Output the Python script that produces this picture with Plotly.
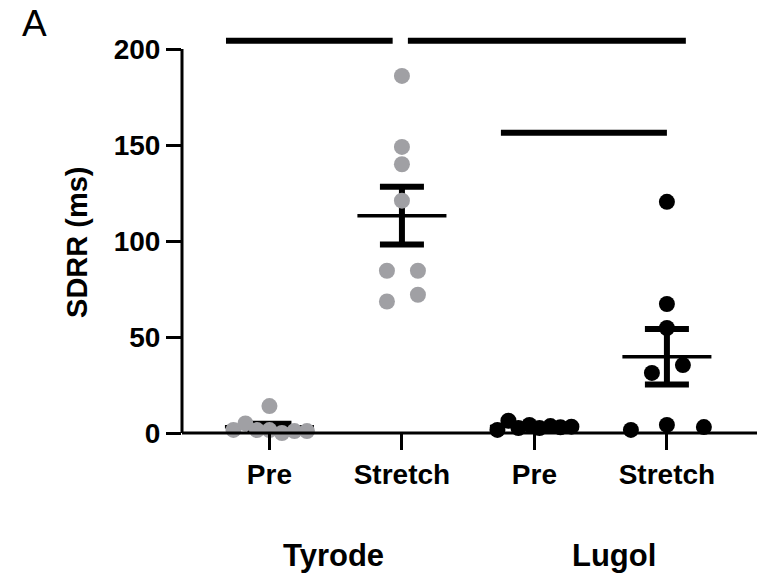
import numpy as np
import plotly.graph_objects as go

# ---- data ----
tick_labels = ["Pre", "Stretch", "Pre", "Stretch"]
group_labels = ["Tyrode", "Lugol"]
tyrode_pre = [1.6, 5.0, 1.5, 14.0, 1.5, 0.0, 1.0, 1.0]
tyrode_stretch = [186.0, 149.0, 140.0, 121.0, 84.5, 84.5, 68.5, 72.0]
lugol_pre = [1.6, 6.4, 2.6, 4.2, 2.6, 3.6, 3.0, 3.3]
lugol_stretch = [120.4, 67.2, 54.7, 35.4, 31.3, 1.6, 4.2, 3.1]
y_ticks = [0, 50, 100, 150, 200]

# ---- layout / style (beeswarm offsets in px, significance bars) ----
groups = [tyrode_pre, tyrode_stretch, lugol_pre, lugol_stretch]
colors = ["#A0A0A4", "#A0A0A4", "#000000", "#000000"]
swarm_px = [
    [-36, -24, -12.5, 0, 0, 12.5, 25, 37.5],
    [0, 0, 0, 0, -15, 16, -15, 16],
    [-37, -26, -16, -5, 5, 16, 26, 37],
    [0, 0, 0, 16, -15, -36, 0, 37],
]
PX_PER_CAT = 132.5
sig_bars = [(-0.328, 0.930, 204.3), (1.045, 3.143, 204.3), (1.747, 3.0, 156.4)]
group_label_x = [0.483, 2.6]

FONT = "Liberation Sans, Arial, sans-serif"
fig = go.Figure()

means = [float(np.mean(g)) for g in groups]
sems = [float(np.std(g, ddof=1) / np.sqrt(len(g))) for g in groups]

# error bars (SEM)
fig.add_trace(go.Scatter(
    x=list(range(4)), y=means, mode="markers",
    marker=dict(size=0.1, color="rgba(0,0,0,0)"),
    error_y=dict(type="data", array=sems, symmetric=True, color="black",
                 thickness=6, width=22),
    showlegend=False, hoverinfo="skip"))

# mean lines
mx, my = [], []
for i, m in enumerate(means):
    mx += [i - 0.336, i + 0.336, None]
    my += [m, m, None]
fig.add_trace(go.Scatter(x=mx, y=my, mode="lines",
                         line=dict(color="black", width=3.5),
                         showlegend=False, hoverinfo="skip"))

# points
for i, (g, offs, c) in enumerate(zip(groups, swarm_px, colors)):
    fig.add_trace(go.Scatter(
        x=[i + o / PX_PER_CAT for o in offs], y=g, mode="markers",
        marker=dict(size=16, color=c, line=dict(width=0)),
        cliponaxis=False, showlegend=False))

YMAX = 212
shapes = []
# axis lines
shapes.append(dict(type="line", xref="paper", yref="paper", x0=0, x1=1, y0=0, y1=0,
                   line=dict(color="black", width=3)))
shapes.append(dict(type="line", xref="paper", yref="paper", x0=0, x1=0,
                   y0=0, y1=200 / YMAX, line=dict(color="black", width=3)))
for x0, x1, h in sig_bars:
    shapes.append(dict(type="line", xref="x", yref="y", x0=x0, x1=x1, y0=h, y1=h,
                       line=dict(color="black", width=6)))

annotations = []
for lbl, gx in zip(group_labels, group_label_x):
    annotations.append(dict(text=lbl, x=gx, xref="x", y=-0.302, yref="paper",
                            showarrow=False, xanchor="center", yanchor="middle",
                            font=dict(family=FONT, size=31, color="black", weight="bold")))
annotations.append(dict(text="SDRR (ms)", x=-0.1826, xref="paper", y=0.467, yref="paper",
                        textangle=-90, showarrow=False, xanchor="center", yanchor="middle",
                        font=dict(family=FONT, size=29, color="black", weight="bold")))
annotations.append(dict(text="A", x=-0.257, xref="paper", y=1.006, yref="paper",
                        showarrow=False, xanchor="center", yanchor="middle",
                        font=dict(family=FONT, size=37, color="black")))

fig.update_layout(
    width=758, height=573,
    margin=dict(l=182, r=1, t=26, b=140),
    paper_bgcolor="white", plot_bgcolor="white",
    shapes=shapes, annotations=annotations,
    xaxis=dict(range=[-0.66, 3.68], tickvals=list(range(4)), ticktext=tick_labels,
               ticks="outside", ticklen=16, tickwidth=3, tickcolor="black",
               showgrid=False, zeroline=False, showline=False,
               tickfont=dict(family=FONT, size=28, color="black", weight="bold")),
    yaxis=dict(range=[0, YMAX], tickvals=y_ticks,
               ticks="outside", ticklen=15, tickwidth=3, tickcolor="black",
               showgrid=False, zeroline=False, showline=False,
               tickfont=dict(family=FONT, size=28, color="black", weight="bold")),
)

fig.write_html("out.html")
